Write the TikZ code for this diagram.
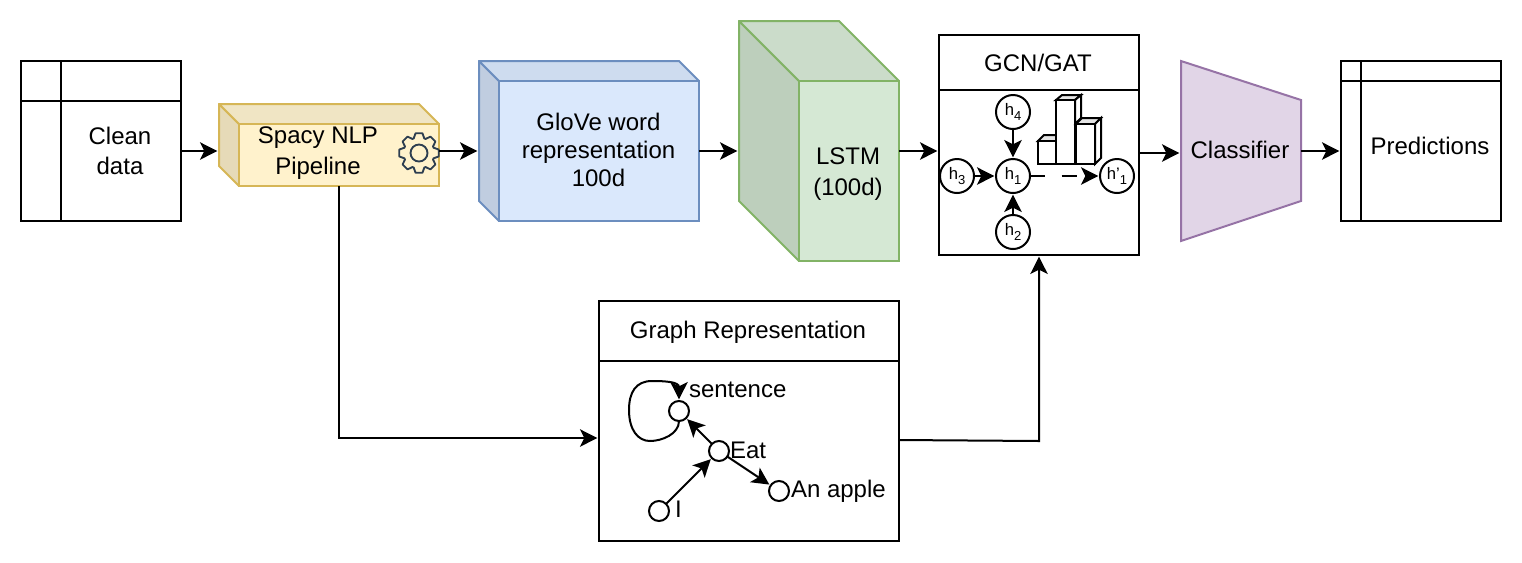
\documentclass[tikz,border=0pt]{standalone}
\usepackage{fontspec}
\setmainfont{Liberation Sans}
\usetikzlibrary{arrows.meta,fit,calc}
\definecolor{yf}{HTML}{FFF2CC}\definecolor{ys}{HTML}{D6B656}\definecolor{yl}{HTML}{E6DAB8}\definecolor{yt}{HTML}{F0E5C4}
\definecolor{bf}{HTML}{DAE8FC}\definecolor{bs}{HTML}{6C8EBF}\definecolor{bl}{HTML}{C0CDE0}\definecolor{bt}{HTML}{CEDCEF}
\definecolor{gf}{HTML}{D5E8D4}\definecolor{gs}{HTML}{82B366}\definecolor{gl}{HTML}{BDCFBC}\definecolor{gt}{HTML}{CBDCCA}
\definecolor{pf}{HTML}{E1D5E7}\definecolor{ps}{HTML}{9673A6}\definecolor{gear}{HTML}{2D3E50}
\newcommand{\bigtext}{\fontsize{18pt}{21pt}\selectfont}
\newcommand{\widetext}{\fontsize{18pt}{22.8pt}\selectfont}
\newcommand{\smalltext}{\fontsize{12.5pt}{14pt}\selectfont}
\newcommand{\hsub}[2]{#1\raisebox{-3.75pt}{\fontsize{9.75pt}{10pt}\selectfont #2}}
\tikzset{
  x=.75pt,y=-.75pt,
  every path/.style={line width=1.5pt},
  every node/.style={outer sep=0pt},
  box/.style={draw=black,inner sep=0pt},
  ghost/.style={inner sep=0pt},
  lab/.style={inner sep=0pt,font=\bigtext,align=center,text=black},
  widelab/.style={lab,font=\widetext},
  leftlab/.style={inner sep=0pt,font=\bigtext,anchor=base west,text=black},
  flow/.style={draw=black,shorten >=1.2pt,-{Stealth[length=13pt,width=13pt,inset=3.2pt]}},
  hnode/.style={draw=black,fill=white,circle,minimum size=25.5pt,inner sep=0pt,font=\smalltext,text=black},
  gnode/.style={draw=black,fill=white,circle,minimum size=15pt,inner sep=0pt},
  bar/.style={draw=black,fill=white},
  bartop/.style={draw=black,fill=black!10},
}
\begin{document}
\begin{tikzpicture}
\useasboundingbox (0,0) rectangle (1522,562);
% Clean data
\node[box,fit={(21,61)(181,221)}] (clean) {};
\draw (61,61) -- (61,221) (21,101) -- (181,101);
\node[widelab] (cleantxt) at (120,151) {Clean\\data};
% Spacy
\draw[draw=ys,fill=yl,line join=round] (219,104) -- (239,124) -- (239,186) -- (219,166) -- cycle;
\draw[draw=ys,fill=yt,line join=round] (219,104) -- (419,104) -- (439,124) -- (239,124) -- cycle;
\node[draw=ys,fill=yf,inner sep=0pt,fit={(239,124)(439,186)}] (spacyfront) {};
\node[ghost,fit={(219,104)(439,186)}] (spacy) {};
\node[widelab] (spacytxt) at (318,153) {Spacy NLP\\Pipeline};
\draw[draw=gear,line join=round,line width=1.4pt]
  ([shift={(419,153)}]-20:15.5) -- ([shift={(419,153)}]-10:20) -- ([shift={(419,153)}]10:20) -- ([shift={(419,153)}]20:15.5)
  \foreach \a in {45,90,...,315}{ -- ([shift={(419,153)}]\a-20:15.5) -- ([shift={(419,153)}]\a-10:20) -- ([shift={(419,153)}]\a+10:20) -- ([shift={(419,153)}]\a+20:15.5)} -- cycle;
\draw[draw=gear,line width=1.4pt] (419,153) circle[radius=8.5];
% GloVe
\draw[draw=bs,fill=bl,line join=round] (479,61) -- (499,81) -- (499,221) -- (479,201) -- cycle;
\draw[draw=bs,fill=bt,line join=round] (479,61) -- (679,61) -- (699,81) -- (499,81) -- cycle;
\node[draw=bs,fill=bf,inner sep=0pt,fit={(499,81)(699,221)}] (glovefront) {};
\node[ghost,fit={(479,61)(699,221)}] (glove) {};
\node[lab] (glovetxt) at (598.5,150) {GloVe word\\representation\\100d};
% LSTM
\draw[draw=gs,fill=gl,line join=round] (739,21) -- (799,81) -- (799,261) -- (739,201) -- cycle;
\draw[draw=gs,fill=gt,line join=round] (739,21) -- (839,21) -- (899,81) -- (799,81) -- cycle;
\node[draw=gs,fill=gf,inner sep=0pt,fit={(799,81)(899,261)}] (lstmfront) {};
\node[ghost,fit={(739,21)(899,261)}] (lstm) {};
\node[widelab] (lstmtxt) at (848,174) {LSTM\\(100d)};
% GCN
\node[box,fit={(939,35)(1139,255)}] (gcn) {};
\draw (939,90) -- (1139,90);
\node[lab] (gcntxt) at (1038,63) {GCN/GAT};
% bars
\draw[bartop] (1038,141) -- (1044,135) -- (1062,135) -- (1056,141) -- cycle;
\draw[bar] (1038,141) rectangle (1056,164);
\draw[bartop] (1056,100) -- (1062,95) -- (1081,95) -- (1075,100) -- cycle;
\draw[bar] (1075,100) -- (1081,95) -- (1081,118) -- (1075,124) -- cycle;
\draw[bar] (1056,100) rectangle (1075,164);
\draw[bartop] (1076,124) -- (1082,118) -- (1101,118) -- (1095,124) -- cycle;
\draw[bar] (1095,124) -- (1101,118) -- (1101,158) -- (1095,164) -- cycle;
\draw[bar] (1076,124) rectangle (1095,164);
% GCN circles
\node[hnode] (h4) at (1013,112) {\hsub{h}{4}};
\node[hnode] (h1) at (1013,176) {\hsub{h}{1}};
\node[hnode] (h3) at (957,176) {\hsub{h}{3}};
\node[hnode] (h2) at (1013,232) {\hsub{h}{2}};
\node[hnode] (hp) at (1117,176) {\hsub{h'}{1}};
\draw[flow] (h4) -- (h1);
\draw[flow] (h3) -- (h1);
\draw[flow] (h2) -- (h1);
\draw[flow,dash pattern=on 11.25pt off 12.5pt] (h1) -- (hp);
% Classifier
\node[ghost,fit={(1181,61)(1301,241)}] (clf) {};
\draw[draw=ps,fill=pf,line join=miter] (clf.north west) -- (1301,100) -- (1301,201) -- (clf.south west) -- cycle;
\node[lab] (clftxt) at (1240,150) {Classifier};
% Predictions
\node[box,fit={(1341,61)(1501,221)}] (pred) {};
\draw (1361,61) -- (1361,221) (1341,81) -- (1501,81);
\node[lab] (predtxt) at (1430,146) {Predictions};
% Graph
\node[box,fit={(599,301)(899,541)}] (graph) {};
\draw (599,361) -- (899,361);
\node[lab] (graphtxt) at (748,332) {Graph Representation};
\node[gnode] (gs) at (679,411) {};
\node[gnode] (ge) at (719,451) {};
\node[gnode] (ga) at (779,491) {};
\node[gnode] (gi) at (659,511) {};
\node[leftlab] (gslab) at (689,397) {sentence};
\node[leftlab] (gelab) at (730,458) {Eat};
\node[leftlab] (galab) at (791,497) {An apple};
\node[leftlab] (gilab) at (675,517) {I};
\draw[flow] (ge) -- (gs);
\draw[flow] (gi) -- (ge);
\draw[flow] (ge) -- (ga);
\draw[flow] (gs.south) .. controls (679,434) and (662,441) .. (650,441) .. controls (638,441) and (629,430) .. (629,410) .. controls (629,392) and (636,381) .. (652,381) .. controls (666,381) and (679,382) .. (gs.north);
% Flow
\coordinate (rowA) at (0,151);
\draw[flow] (clean.east |- rowA) -- (spacy.west |- rowA);
\draw[flow] (spacy.east |- rowA) -- (glove.west |- rowA);
\draw[flow] (glove.east |- rowA) -- (lstm.west |- rowA);
\draw[flow] (lstm.east |- rowA) -- (gcn.west |- rowA);
\draw[flow] ($(gcn.east |- rowA)+(0,2)$) -- ($(clf.west |- rowA)+(0,2)$);
\draw[flow] (clf.east |- rowA) -- (pred.west |- rowA);
\draw[flow] ($(spacy.south)+(10,0)$) |- ($(graph.west)+(0,17)$);
\draw[flow] ($(graph.east)+(0,19)$) -- ($(gcn.south |- graph.east)+(0,20)$) -- (gcn.south);
\end{tikzpicture}
\end{document}
